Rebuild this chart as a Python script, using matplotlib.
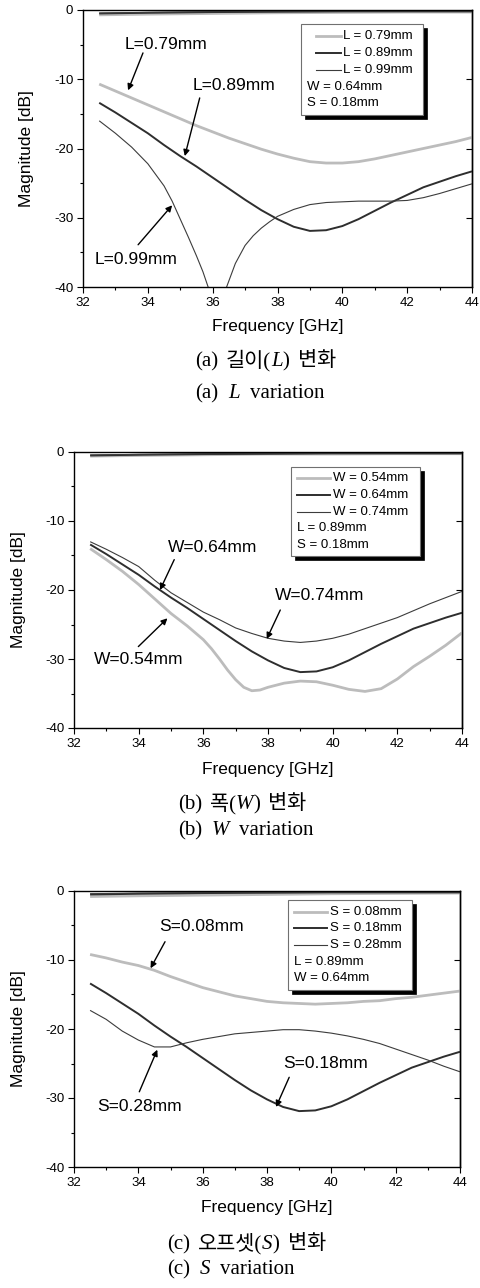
import matplotlib
matplotlib.use("Agg")
import matplotlib.pyplot as plt
from matplotlib.lines import Line2D
from matplotlib.patches import Rectangle

plt.rcParams['font.family'] = ['Liberation Sans', 'DejaVu Sans']
plt.rcParams['axes.unicode_minus'] = False

# ---------------- data ----------------
freq = [32.5, 33.0, 33.5, 34.0, 34.5, 35.0, 35.5, 36.0, 36.5, 37.0, 37.5, 38.0,
        38.5, 39.0, 39.5, 40.0, 40.5, 41.0, 41.5, 42.0, 42.5, 43.0, 43.5, 44.0]
freq_s21 = [32.5, 34.0, 36.0, 38.0, 40.0, 42.0, 44.0]

# (a) L variation
s11_L079 = [-10.7, -11.7, -12.7, -13.7, -14.7, -15.7, -16.7, -17.6, -18.5, -19.3, -20.1, -20.8,
            -21.4, -21.9, -22.1, -22.1, -21.9, -21.5, -21.0, -20.5, -20.0, -19.5, -19.0, -18.4]
s11_L089 = [-13.4, -14.8, -16.3, -17.8, -19.5, -21.1, -22.6, -24.2, -25.8, -27.4, -28.9, -30.2,
            -31.3, -31.9, -31.8, -31.2, -30.2, -29.0, -27.8, -26.7, -25.6, -24.8, -24.0, -23.3]
freq_L099 = [32.5, 33.0, 33.5, 34.0, 34.5, 34.75, 35.0, 35.25, 35.5, 35.7, 35.86, 36.15, 36.43,
             36.7, 37.0, 37.25, 37.5, 37.75, 38.0, 38.5, 39.0, 39.5, 40.0, 40.5, 41.0, 41.5,
             42.0, 42.5, 43.0, 43.5, 44.0]
s11_L099 = [-16.0, -17.8, -19.8, -22.2, -25.4, -27.6, -30.2, -32.8, -35.5, -37.8, -40.0, -48.0, -40.0,
            -36.6, -34.0, -32.6, -31.5, -30.6, -29.8, -28.8, -28.1, -27.8, -27.7, -27.6, -27.6, -27.6,
            -27.5, -27.1, -26.5, -25.8, -25.1]
s21_L079 = [-0.7, -0.6, -0.5, -0.4, -0.35, -0.3, -0.3]
s21_L089 = [-0.5, -0.4, -0.3, -0.25, -0.2, -0.2, -0.2]
s21_L099 = [-0.45, -0.35, -0.25, -0.2, -0.2, -0.2, -0.2]

# (b) W variation
freq_W054 = [32.5, 33.0, 33.5, 34.0, 34.5, 35.0, 35.5, 36.0, 36.25, 36.5, 36.75, 37.0, 37.25,
             37.5, 37.75, 38.0, 38.5, 39.0, 39.5, 40.0, 40.5, 41.0, 41.5, 42.0, 42.5, 43.0,
             43.5, 44.0]
s11_W054 = [-14.0, -15.6, -17.3, -19.2, -21.3, -23.4, -25.2, -27.2, -28.5, -30.0, -31.6, -33.0, -34.1,
            -34.6, -34.5, -34.1, -33.5, -33.2, -33.3, -33.8, -34.4, -34.7, -34.3, -32.9, -31.1, -29.6,
            -28.0, -26.2]
s11_W064 = [-13.4, -14.8, -16.3, -17.8, -19.5, -21.1, -22.6, -24.2, -25.8, -27.4, -28.9, -30.2,
            -31.3, -31.9, -31.8, -31.2, -30.2, -29.0, -27.8, -26.7, -25.6, -24.8, -24.0, -23.3]
s11_W074 = [-13.0, -14.1, -15.3, -16.6, -18.6, -20.4, -21.8, -23.2, -24.3, -25.5, -26.3, -27.0,
            -27.4, -27.6, -27.4, -27.0, -26.4, -25.6, -24.8, -24.0, -23.0, -22.0, -21.1, -20.2]
s21_W054 = [-0.6, -0.5, -0.4, -0.3, -0.3, -0.25, -0.25]
s21_W064 = [-0.5, -0.4, -0.3, -0.25, -0.2, -0.2, -0.2]
s21_W074 = [-0.45, -0.35, -0.3, -0.25, -0.2, -0.2, -0.2]

# (c) S variation
s11_S008 = [-9.2, -9.7, -10.3, -10.8, -11.5, -12.4, -13.2, -14.0, -14.6, -15.2, -15.6, -16.0,
            -16.2, -16.3, -16.4, -16.3, -16.2, -16.0, -15.9, -15.6, -15.4, -15.1, -14.8, -14.5]
s11_S018 = [-13.4, -14.8, -16.3, -17.8, -19.5, -21.1, -22.6, -24.2, -25.8, -27.4, -28.9, -30.2,
            -31.3, -31.9, -31.8, -31.2, -30.2, -29.0, -27.8, -26.7, -25.6, -24.8, -24.0, -23.3]
s11_S028 = [-17.3, -18.6, -20.3, -21.6, -22.6, -22.6, -22.0, -21.5, -21.1, -20.7, -20.5, -20.3,
            -20.1, -20.1, -20.3, -20.6, -21.0, -21.5, -22.1, -22.9, -23.7, -24.5, -25.4, -26.2]
s21_S008 = [-0.8, -0.7, -0.6, -0.5, -0.4, -0.35, -0.3]
s21_S018 = [-0.5, -0.4, -0.3, -0.25, -0.2, -0.2, -0.2]
s21_S028 = [-0.4, -0.3, -0.25, -0.2, -0.15, -0.15, -0.15]

labels_a = ["L = 0.79mm", "L = 0.89mm", "L = 0.99mm"]
extra_a = ["W = 0.64mm", "S = 0.18mm"]
labels_b = ["W = 0.54mm", "W = 0.64mm", "W = 0.74mm"]
extra_b = ["L = 0.89mm", "S = 0.18mm"]
labels_c = ["S = 0.08mm", "S = 0.18mm", "S = 0.28mm"]
extra_c = ["L = 0.89mm", "W = 0.64mm"]

notes_a = [("L=0.79mm", (34.55, -5.0), (33.85, -6.2), (33.39, -11.6)),
           ("L=0.89mm", (36.65, -10.9), (35.6, -12.7), (35.14, -21.1)),
           ("L=0.99mm", (33.65, -36.0), (33.7, -33.9), (34.75, -28.2))]
notes_b = [("W=0.64mm", (36.3, -13.8), (35.1, -15.6), (34.66, -20.0)),
           ("W=0.74mm", (39.6, -20.8), (38.38, -22.9), (37.96, -27.1)),
           ("W=0.54mm", (34.0, -30.1), (33.99, -28.2), (34.89, -24.1))]
notes_c = [("S=0.08mm", (35.97, -5.1), (34.83, -7.35), (34.38, -11.2)),
           ("S=0.18mm", (39.83, -25.0), (38.69, -27.0), (38.28, -31.3)),
           ("S=0.28mm", (34.03, -31.2), (34.03, -29.1), (34.59, -23.0))]

caps = [
    [[("(a)", "normal"), 8, ("길이(", "normal"), ("L", "italic"), (")", "normal"), 8, ("변화", "normal")],
     [("(a)", "normal"), 10, ("L", "italic"), 10, ("variation", "normal")]],
    [[("(b)", "normal"), 8, ("폭(", "normal"), ("W", "italic"), (")", "normal"), 8, ("변화", "normal")],
     [("(b)", "normal"), 10, ("W", "italic"), 10, ("variation", "normal")]],
    [[("(c)", "normal"), 8, ("오프셋(", "normal"), ("S", "italic"), (")", "normal"), 8, ("변화", "normal")],
     [("(c)", "normal"), 10, ("S", "italic"), 10, ("variation", "normal")]],
]

# ---------------- style ----------------
W_PX, H_PX = 481, 1288
fig = plt.figure(figsize=(W_PX / 100, H_PX / 100), dpi=100)

GRAY = '#bcbcbc'
DARK = '#2e2e2e'
THIN = '#3c3c3c'
styles = [dict(color=GRAY, lw=2.0), dict(color=DARK, lw=1.4), dict(color=THIN, lw=0.8)]

# axes boxes in pixels: left, top, right, bottom
boxes = [(83, 10, 472, 287), (74, 452, 462, 728), (74, 891, 460, 1167)]
legend_boxes = [  # axes fractions: x0, y0, x1, y1, rows y, handle x0, x1, text x, extra text x
    (0.560, 0.621, 0.874, 0.949, [0.906, 0.844, 0.783, 0.723, 0.663], 0.599, 0.662, 0.669, 0.577),
    (0.558, 0.623, 0.892, 0.947, [0.905, 0.844, 0.784, 0.723, 0.663], 0.576, 0.659, 0.667, 0.576),
    (0.555, 0.641, 0.875, 0.967, [0.925, 0.865, 0.804, 0.744, 0.684], 0.570, 0.656, 0.663, 0.570),
]
xlabel_y = [-0.141, -0.152, -0.145]
cap_pos = [(195, 366, 398), (178, 809, 835), (167, 1249, 1274)]

panels = [
    ((freq, s11_L079, s21_L079), (freq, s11_L089, s21_L089), (freq_L099, s11_L099, s21_L099),
     labels_a, extra_a, notes_a),
    ((freq_W054, s11_W054, s21_W054), (freq, s11_W064, s21_W064), (freq, s11_W074, s21_W074),
     labels_b, extra_b, notes_b),
    ((freq, s11_S008, s21_S008), (freq, s11_S018, s21_S018), (freq, s11_S028, s21_S028),
     labels_c, extra_c, notes_c),
]

for i, (sa, sb, sc, labels, extras, notes) in enumerate(panels):
    l, t, r, b = boxes[i]
    ax = fig.add_axes([l / W_PX, 1 - b / H_PX, (r - l) / W_PX, (b - t) / H_PX])
    for (fx, s11, s21), st in zip((sa, sb, sc), styles):
        ax.plot(fx, s11, solid_capstyle='butt', solid_joinstyle='round', **st)
        ax.plot(freq_s21, s21, solid_capstyle='butt', **st)
    ax.set_xlim(32, 44)
    ax.set_ylim(-40, 0)
    ax.set_xticks(range(32, 45, 2))
    ax.set_xticks(range(33, 44, 2), minor=True)
    ax.set_yticks(range(-40, 1, 10))
    ax.set_yticks(range(-35, 0, 10), minor=True)
    ax.tick_params(which='major', direction='out', length=4.5, width=0.8, labelsize=9.5,
                   top=False, right=False, pad=2.5)
    ax.tick_params(which='minor', direction='out', length=2.5, width=0.8, top=False, right=False)
    sec = ax.secondary_yaxis('right')
    sec.set_yticks(range(-30, 0, 10))
    sec.tick_params(direction='in', length=4, width=0.8, labelright=False)
    sec.spines['right'].set_linewidth(1.0)
    for sp in ax.spines.values():
        sp.set_linewidth(1.0)
    ax.set_xlabel("Frequency [GHz]", fontsize=12.5)
    ax.xaxis.set_label_coords(0.5, xlabel_y[i])
    ax.xaxis.label.set_va('center')
    ax.set_ylabel("Magnitude [dB]", fontsize=12.5)
    ax.yaxis.set_label_coords(-0.144, 0.5)
    ax.yaxis.label.set_va('center')

    # annotations
    for txt, tpos, tail, head in notes:
        ax.text(tpos[0], tpos[1], txt, fontsize=12.5, ha='center', va='center')
        ax.annotate("", xy=head, xytext=tail,
                    arrowprops=dict(arrowstyle='-|>', color='black', lw=1.0,
                                    mutation_scale=9, shrinkA=0, shrinkB=0))

    # legend box with black shadow
    x0, y0, x1, y1, rows, hx0, hx1, tx, ex = legend_boxes[i]
    ax_w, ax_h = r - l, b - t
    dx, dy = 4.0 / ax_w, 4.0 / ax_h
    ax.add_patch(Rectangle((x0 + dx, y0 - dy), x1 - x0, y1 - y0, transform=ax.transAxes,
                           facecolor='black', edgecolor='black', lw=0.5, zorder=5))
    ax.add_patch(Rectangle((x0, y0), x1 - x0, y1 - y0, transform=ax.transAxes,
                           facecolor='white', edgecolor='#707070', lw=0.8, zorder=6))
    for k, (lab, st) in enumerate(zip(labels, styles)):
        ax.add_line(Line2D([hx0, hx1], [rows[k], rows[k]], transform=ax.transAxes,
                           zorder=7, **st))
        ax.text(tx, rows[k], lab, transform=ax.transAxes, fontsize=9.5,
                ha='left', va='center', zorder=7)
    for k, lab in enumerate(extras):
        ax.text(ex, rows[3 + k], lab, transform=ax.transAxes, fontsize=9.5,
                ha='left', va='center', zorder=7)

# captions
renderer = fig.canvas.get_renderer()
serif = ['Liberation Serif', 'Noto Sans CJK KR']
for i, lines in enumerate(caps):
    x_start, yb1, yb2 = cap_pos[i]
    for line, yb in zip(lines, (yb1, yb2)):
        x = x_start
        for piece in line:
            if isinstance(piece, (int, float)):
                x += piece
                continue
            txt, style = piece
            tt = fig.text(x / W_PX, 1 - yb / H_PX, txt, fontsize=15, family=serif,
                          style=style, ha='left', va='baseline')
            bb = tt.get_window_extent(renderer=renderer)
            x += bb.width

fig.savefig("out.png", dpi=100)
